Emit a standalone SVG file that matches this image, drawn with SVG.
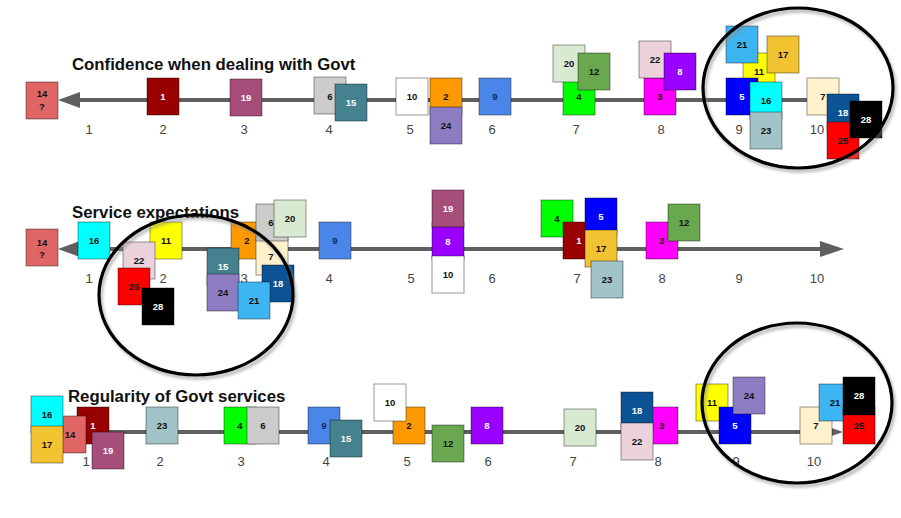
<svg xmlns="http://www.w3.org/2000/svg" width="901" height="518" viewBox="0 0 901 518">
<defs>
<style>
.node rect{stroke:#000;stroke-opacity:.4;stroke-width:1}
.node text{font-family:"Liberation Sans",Arial,sans-serif;font-weight:bold;font-size:9.5px;text-anchor:middle;fill:#111}
.node text.w{fill:#fff}
.title{font-family:"Liberation Sans",Arial,sans-serif;font-weight:bold;font-size:16.8px;fill:#111}
.lab{font-family:"Liberation Sans",Arial,sans-serif;font-size:13px;fill:#444;text-anchor:middle}
.axis{stroke:#5f5f5f;stroke-width:4;fill:none}
.head{fill:#5f5f5f}
.ring{fill:none;stroke:#000;stroke-width:3.2}
.shadow{fill:none;stroke:#8a8a8a;stroke-width:3.5;opacity:.6}
</style>
<filter id="blur" x="-10%" y="-10%" width="120%" height="120%"><feGaussianBlur stdDeviation="1.6"/></filter>
</defs>
<rect width="901" height="518" fill="#fff"/>

<!-- connectors: axes -->
<g id="connectors">
<line class="axis" x1="78" y1="100" x2="830" y2="100"/>
<polygon class="head" points="58,100 80,92 80,108"/>
<line class="axis" x1="78" y1="249" x2="822" y2="249"/>
<polygon class="head" points="58,249 80,241 80,257"/>
<polygon class="head" points="844,249 820,241 820,257"/>
<line class="axis" x1="60" y1="432" x2="822" y2="432"/>
<polygon class="head" points="843,432 820,424 820,440"/>
</g>

<!-- titles -->
<text class="title" x="72" y="70">Confidence when dealing with Govt</text>
<text class="title" x="72" y="218">Service expectations</text>
<text class="title" x="68" y="402">Regularity of Govt services</text>

<!-- axis labels -->
<g id="labels-row1">
<text class="lab" x="89" y="134">1</text><text class="lab" x="163" y="134">2</text><text class="lab" x="244" y="134">3</text><text class="lab" x="329" y="134">4</text><text class="lab" x="410" y="134">5</text><text class="lab" x="492" y="134">6</text><text class="lab" x="576" y="134">7</text><text class="lab" x="661" y="134">8</text><text class="lab" x="739" y="134">9</text><text class="lab" x="817" y="134">10</text>
</g>
<g id="labels-row2">
<text class="lab" x="89" y="283">1</text><text class="lab" x="163" y="283">2</text><text class="lab" x="244" y="283">3</text><text class="lab" x="329" y="283">4</text><text class="lab" x="411" y="283">5</text><text class="lab" x="492" y="283">6</text><text class="lab" x="577" y="283">7</text><text class="lab" x="662" y="283">8</text><text class="lab" x="739" y="283">9</text><text class="lab" x="817" y="283">10</text>
</g>
<g id="labels-row3">
<text class="lab" x="86" y="466">1</text><text class="lab" x="160" y="466">2</text><text class="lab" x="241" y="466">3</text><text class="lab" x="326" y="466">4</text><text class="lab" x="407" y="466">5</text><text class="lab" x="488" y="466">6</text><text class="lab" x="573" y="466">7</text><text class="lab" x="658" y="466">8</text><text class="lab" x="736" y="466">9</text><text class="lab" x="814" y="466">10</text>
</g>

<!-- Row 1 -->
<g id="r1-14" class="node"><rect x="26" y="82" width="32" height="37" fill="#e06666"/><text x="42" y="97">14</text><text x="42" y="110">?</text></g>
<g id="r1-1" class="node"><rect x="147" y="78" width="32" height="37" fill="#990000"/><text class="w" x="163" y="100">1</text></g>
<g id="r1-19" class="node"><rect x="230" y="79" width="32" height="37" fill="#a64d79"/><text class="w" x="246" y="101">19</text></g>
<g id="r1-6" class="node"><rect x="314" y="77" width="32" height="37" fill="#cccccc"/><text x="330" y="100">6</text></g>
<g id="r1-15" class="node"><rect x="335" y="84" width="32" height="37" fill="#45818e"/><text class="w" x="351" y="106">15</text></g>
<g id="r1-10" class="node"><rect x="396" y="78" width="32" height="37" fill="#ffffff"/><text x="412" y="100">10</text></g>
<g id="r1-2" class="node"><rect x="430" y="78" width="32" height="37" fill="#ff9900"/><text x="446" y="100">2</text></g>
<g id="r1-24" class="node"><rect x="430" y="107" width="32" height="37" fill="#8e7cc3"/><text x="446" y="129">24</text></g>
<g id="r1-9" class="node"><rect x="479" y="78" width="32" height="37" fill="#4a86e8"/><text x="495" y="100" style="fill:#0b2a66">9</text></g>
<g id="r1-4" class="node"><rect x="563" y="78" width="32" height="37" fill="#00ff00"/><text x="579" y="100">4</text></g>
<g id="r1-20" class="node"><rect x="553" y="45" width="32" height="37" fill="#d9ead3"/><text x="569" y="67">20</text></g>
<g id="r1-12" class="node"><rect x="578" y="53" width="32" height="37" fill="#6aa84f"/><text x="594" y="75">12</text></g>
<g id="r1-3" class="node"><rect x="644" y="78" width="32" height="37" fill="#ff00ff"/><text x="660" y="100">3</text></g>
<g id="r1-22" class="node"><rect x="639" y="41" width="32" height="37" fill="#ead1dc"/><text x="655" y="63">22</text></g>
<g id="r1-8" class="node"><rect x="664" y="53" width="32" height="37" fill="#9900ff"/><text class="w" x="680" y="75">8</text></g>
<g id="r1-11" class="node"><rect x="743" y="53" width="32" height="37" fill="#ffff00"/><text x="759" y="75">11</text></g>
<g id="r1-21" class="node"><rect x="726" y="26" width="32" height="37" fill="#3db5f2"/><text x="742" y="48">21</text></g>
<g id="r1-17" class="node"><rect x="767" y="36" width="32" height="37" fill="#f1c232"/><text x="783" y="58">17</text></g>
<g id="r1-5" class="node"><rect x="726" y="78" width="32" height="37" fill="#0000ff"/><text class="w" x="742" y="100">5</text></g>
<g id="r1-16" class="node"><rect x="750" y="82" width="32" height="37" fill="#00ffff"/><text x="766" y="104">16</text></g>
<g id="r1-23" class="node"><rect x="750" y="112" width="32" height="37" fill="#a2c4c9"/><text x="766" y="134">23</text></g>
<g id="r1-7" class="node"><rect x="807" y="78" width="32" height="37" fill="#fff2cc"/><text x="823" y="100">7</text></g>
<g id="r1-18" class="node"><rect x="827" y="94" width="32" height="37" fill="#0b5394"/><text class="w" x="843" y="116">18</text></g>
<g id="r1-25" class="node"><rect x="827" y="122" width="32" height="37" fill="#ff0000"/><text x="843" y="144">25</text></g>
<g id="r1-28" class="node"><rect x="850" y="101" width="32" height="37" fill="#000000"/><text class="w" x="866" y="123">28</text></g>

<!-- Row 2 -->
<g id="r2-14" class="node"><rect x="26" y="229" width="32" height="37" fill="#e06666"/><text x="42" y="246">14</text><text x="42" y="258">?</text></g>
<g id="r2-16" class="node"><rect x="78" y="222" width="32" height="37" fill="#00ffff"/><text x="94" y="244">16</text></g>
<g id="r2-11" class="node"><rect x="150" y="222" width="32" height="37" fill="#ffff00"/><text x="166" y="244">11</text></g>
<g id="r2-22" class="node"><rect x="123" y="242" width="32" height="37" fill="#ead1dc"/><text x="139" y="264">22</text></g>
<g id="r2-25" class="node"><rect x="118" y="268" width="32" height="37" fill="#ff0000"/><text x="134" y="290">25</text></g>
<g id="r2-28" class="node"><rect x="142" y="288" width="32" height="37" fill="#000000"/><text class="w" x="158" y="310">28</text></g>
<g id="r2-2" class="node"><rect x="231" y="222" width="32" height="37" fill="#ff9900"/><text x="247" y="244">2</text></g>
<g id="r2-7" class="node"><rect x="256" y="238" width="32" height="37" fill="#fff2cc"/><text x="271" y="260">7</text></g>
<g id="r2-6" class="node"><rect x="256" y="204" width="32" height="37" fill="#cccccc"/><text x="271" y="226">6</text></g>
<g id="r2-20" class="node"><rect x="274" y="200" width="32" height="37" fill="#d9ead3"/><text x="290" y="222">20</text></g>
<g id="r2-15" class="node"><rect x="207" y="248" width="32" height="37" fill="#45818e"/><text class="w" x="223" y="270">15</text></g>
<g id="r2-24" class="node"><rect x="207" y="274" width="32" height="37" fill="#8e7cc3"/><text x="223" y="296">24</text></g>
<g id="r2-18" class="node"><rect x="262" y="265" width="32" height="37" fill="#0b5394"/><text class="w" x="278" y="287">18</text></g>
<g id="r2-21" class="node"><rect x="238" y="282" width="32" height="37" fill="#3db5f2"/><text x="254" y="304">21</text></g>
<g id="r2-9" class="node"><rect x="319" y="222" width="32" height="37" fill="#4a86e8"/><text x="335" y="244" style="fill:#0b2a66">9</text></g>
<g id="r2-8" class="node"><rect x="432" y="223" width="32" height="37" fill="#9900ff"/><text class="w" x="448" y="245">8</text></g>
<g id="r2-10" class="node"><rect x="432" y="256" width="32" height="37" fill="#ffffff"/><text x="448" y="278">10</text></g>
<g id="r2-19" class="node"><rect x="432" y="190" width="32" height="37" fill="#a64d79"/><text class="w" x="448" y="212">19</text></g>
<g id="r2-4" class="node"><rect x="541" y="200" width="32" height="37" fill="#00ff00"/><text x="557" y="222">4</text></g>
<g id="r2-1" class="node"><rect x="563" y="222" width="32" height="37" fill="#990000"/><text class="w" x="579" y="244">1</text></g>
<g id="r2-5" class="node"><rect x="585" y="198" width="32" height="37" fill="#0000ff"/><text class="w" x="601" y="220">5</text></g>
<g id="r2-17" class="node"><rect x="585" y="230" width="32" height="37" fill="#f1c232"/><text x="601" y="252">17</text></g>
<g id="r2-23" class="node"><rect x="591" y="261" width="32" height="37" fill="#a2c4c9"/><text x="607" y="283">23</text></g>
<g id="r2-3" class="node"><rect x="646" y="222" width="32" height="37" fill="#ff00ff"/><text x="662" y="244">3</text></g>
<g id="r2-12" class="node"><rect x="668" y="204" width="32" height="37" fill="#6aa84f"/><text x="684" y="226">12</text></g>

<!-- Row 3 -->
<g id="r3-1" class="node"><rect x="77" y="407" width="32" height="37" fill="#990000"/><text class="w" x="93" y="429">1</text></g>
<g id="r3-14" class="node"><rect x="54" y="416" width="32" height="37" fill="#e06666"/><text x="70" y="438">14</text></g>
<g id="r3-16" class="node"><rect x="31" y="396" width="32" height="37" fill="#00ffff"/><text x="47" y="418">16</text></g>
<g id="r3-17" class="node"><rect x="31" y="426" width="32" height="37" fill="#f1c232"/><text x="47" y="448">17</text></g>
<g id="r3-19" class="node"><rect x="92" y="432" width="32" height="37" fill="#a64d79"/><text class="w" x="108" y="454">19</text></g>
<g id="r3-23" class="node"><rect x="146" y="407" width="32" height="37" fill="#a2c4c9"/><text x="162" y="429">23</text></g>
<g id="r3-4" class="node"><rect x="224" y="407" width="32" height="37" fill="#00ff00"/><text x="240" y="429">4</text></g>
<g id="r3-6" class="node"><rect x="247" y="407" width="32" height="37" fill="#cccccc"/><text x="263" y="429">6</text></g>
<g id="r3-9" class="node"><rect x="308" y="407" width="32" height="37" fill="#4a86e8"/><text x="324" y="429" style="fill:#0b2a66">9</text></g>
<g id="r3-15" class="node"><rect x="330" y="420" width="32" height="37" fill="#45818e"/><text class="w" x="346" y="442">15</text></g>
<g id="r3-2" class="node"><rect x="393" y="407" width="32" height="37" fill="#ff9900"/><text x="409" y="429">2</text></g>
<g id="r3-10" class="node"><rect x="374" y="384" width="32" height="37" fill="#ffffff"/><text x="390" y="406">10</text></g>
<g id="r3-12" class="node"><rect x="432" y="425" width="32" height="37" fill="#6aa84f"/><text x="448" y="447">12</text></g>
<g id="r3-8" class="node"><rect x="471" y="407" width="32" height="37" fill="#9900ff"/><text class="w" x="487" y="429">8</text></g>
<g id="r3-20" class="node"><rect x="564" y="409" width="32" height="37" fill="#d9ead3"/><text x="580" y="431">20</text></g>
<g id="r3-3" class="node"><rect x="646" y="407" width="32" height="37" fill="#ff00ff"/><text x="662" y="429">3</text></g>
<g id="r3-18" class="node"><rect x="621" y="392" width="32" height="37" fill="#0b5394"/><text class="w" x="637" y="414">18</text></g>
<g id="r3-22" class="node"><rect x="621" y="423" width="32" height="37" fill="#ead1dc"/><text x="637" y="445">22</text></g>
<g id="r3-11" class="node"><rect x="696" y="384" width="32" height="37" fill="#ffff00"/><text x="712" y="406">11</text></g>
<g id="r3-5" class="node"><rect x="719" y="407" width="32" height="37" fill="#0000ff"/><text class="w" x="735" y="429">5</text></g>
<g id="r3-24" class="node"><rect x="733" y="377" width="32" height="37" fill="#8e7cc3"/><text x="749" y="399">24</text></g>
<g id="r3-7" class="node"><rect x="800" y="407" width="32" height="37" fill="#fff2cc"/><text x="816" y="429">7</text></g>
<g id="r3-21" class="node"><rect x="819" y="384" width="32" height="37" fill="#3db5f2"/><text x="835" y="406">21</text></g>
<g id="r3-25" class="node"><rect x="843" y="407" width="32" height="37" fill="#ff0000"/><text x="859" y="429">25</text></g>
<g id="r3-28" class="node"><rect x="843" y="377" width="32" height="38" fill="#000000"/><text class="w" x="859" y="399">28</text></g>

<!-- highlight rings -->
<g id="rings">
<ellipse class="shadow" filter="url(#blur)" cx="800" cy="91" rx="95" ry="80"/>
<ellipse class="ring" cx="798" cy="88" rx="95" ry="80"/>
<ellipse class="shadow" filter="url(#blur)" cx="198" cy="298" rx="97" ry="80"/>
<ellipse class="ring" cx="196" cy="295" rx="97" ry="80"/>
<ellipse class="shadow" filter="url(#blur)" cx="799" cy="406" rx="95" ry="80"/>
<ellipse class="ring" cx="797" cy="403" rx="95" ry="80"/>
</g>
</svg>
